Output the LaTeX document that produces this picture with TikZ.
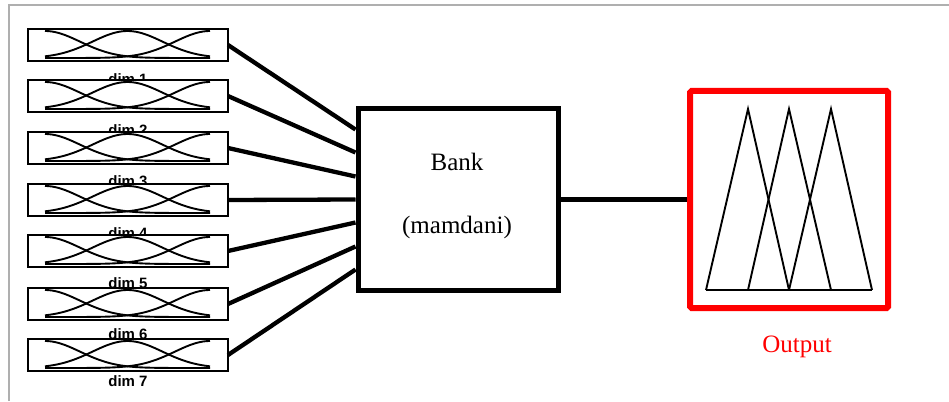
\documentclass[tikz,border=0pt]{standalone}
\usepackage{fontspec}
\setmainfont{Liberation Serif}
\newfontfamily\lblfont{Liberation Sans}
\definecolor{framegray}{RGB}{175,175,175}
\begin{document}
\begin{tikzpicture}[x=1pt,y=-1pt,
  inbox/.style={draw=black, line width=2.2pt, fill=white, minimum width=200pt, minimum height=32pt, inner sep=0pt, outer sep=0pt},
  dimlbl/.style={font=\lblfont\bfseries\fontsize{15}{15}\selectfont, anchor=north, inner sep=0pt},
  conn/.style={line width=4.3pt},
  mf/.style={line width=1.9pt},
  bigtxt/.style={font=\fontsize{25}{25}\selectfont, inner sep=0pt},
  ]
\useasboundingbox (0,0) rectangle (949,401);
\draw[line width=1.8pt, draw=framegray] (9,401) -- (9,5) -- (949,5);

% labels (drawn first, partly hidden by the next box)
\foreach \i/\y in {1/73,2/124,3/175,4/227,5/277,6/328,7/375}
  \node[dimlbl] (l\i) at (128,\y) {dim \i};

% input boxes with membership curves
\foreach \i/\y in {1/45,2/96,3/148,4/200,5/251,6/304,7/355}{
  \node[inbox] (d\i) at (128,\y) {};
  \begin{scope}[shift={(d\i.north west)}]
    \draw[mf] plot[domain=17:182, samples=70, smooth] (\x, {29-27*exp(-0.5*((\x-17)/35)^2)});
    \draw[mf] plot[domain=17:182, samples=70, smooth] (\x, {29-27*exp(-0.5*((\x-99.5)/35)^2)});
    \draw[mf] plot[domain=17:182, samples=70, smooth] (\x, {29-27*exp(-0.5*((\x-182)/35)^2)});
  \end{scope}
}

% bank
\node[draw=black, line width=5pt, minimum width=200pt, minimum height=181pt, inner sep=0pt] (bank) at (458,199.5) {};
\node[bigtxt] (banktxt) at (457,162) {Bank};
\node[bigtxt] (mamtxt) at (457,227) {(mamdani)};

% connectors
\draw[conn] (d1.east) -- ([yshift=70pt]bank.west);
\draw[conn] (d2.east) -- ([yshift=47pt]bank.west);
\draw[conn] (d3.east) -- ([yshift=23pt]bank.west);
\draw[conn] (d4.east) -- (bank.west);
\draw[conn] (d5.east) -- ([yshift=-23pt]bank.west);
\draw[conn] (d6.east) -- ([yshift=-47pt]bank.west);
\draw[conn] (d7.east) -- ([yshift=-70pt]bank.west);

% output
\node[draw=red, line width=6pt, rounded corners=1.5pt, minimum width=198pt, minimum height=217pt, inner sep=0pt] (out) at (789,199.5) {};
\draw[conn] (bank.east) -- (out.west);
\draw[mf, line join=miter] (706,290) -- (748,109) -- (789,290);
\draw[mf, line join=miter] (748,290) -- (789,109) -- (831,290);
\draw[mf, line join=miter] (789,290) -- (831,109) -- (872,290);
\draw[mf] (706,290) -- (872,290);
\node[bigtxt, text=red] (outlbl) at (797,347) {Output};
\end{tikzpicture}
\end{document}
